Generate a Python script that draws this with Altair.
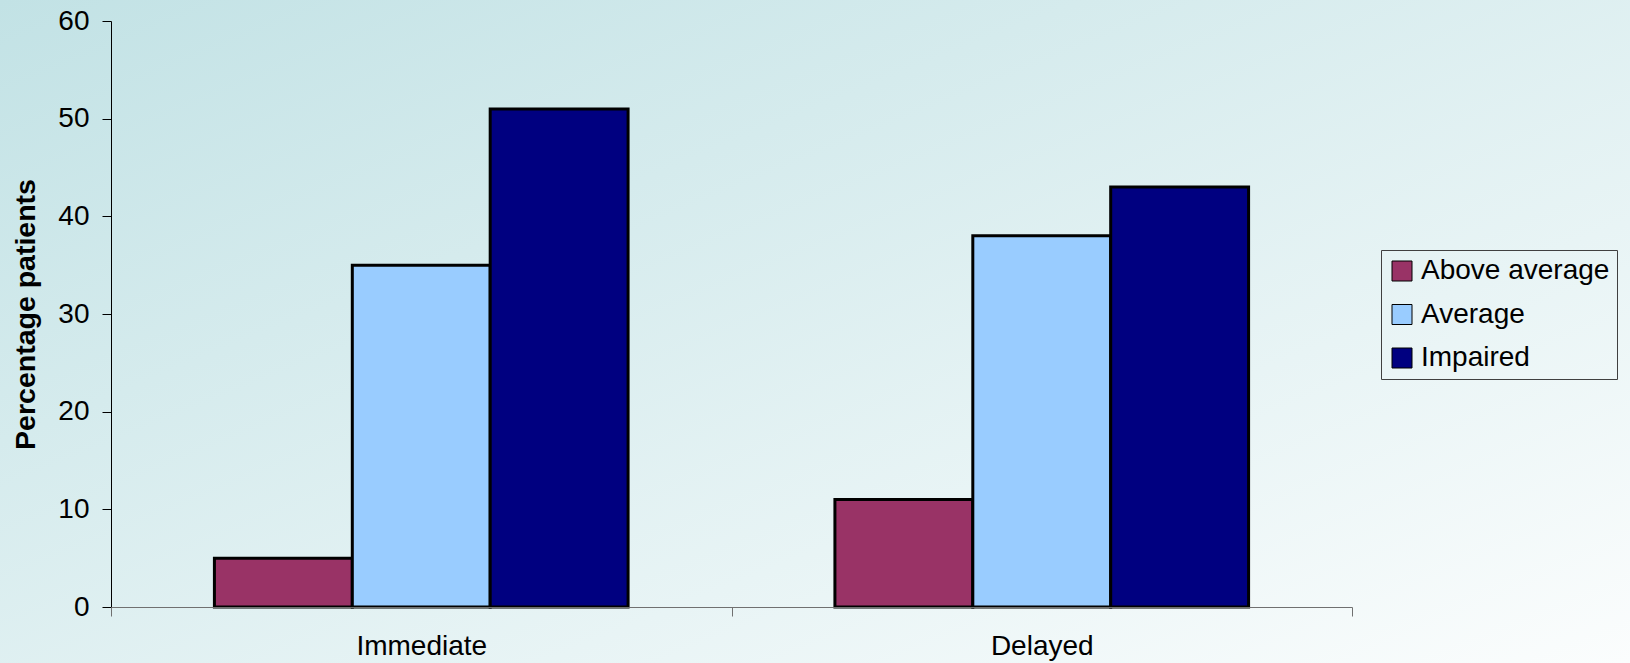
import altair as alt
import pandas as pd

categories = ["Immediate", "Delayed"]
series = ["Above average", "Average", "Impaired"]
above_average = [5, 11]
average = [35, 38]
impaired = [51, 43]
y_ticks = [0, 10, 20, 30, 40, 50, 60]
colors = ["#993366", "#99CCFF", "#000080"]

rows = []
for i, c in enumerate(categories):
    for s, vals in zip(series, [above_average, average, impaired]):
        rows.append({"cat": c, "series": s, "value": vals[i]})
df = pd.DataFrame(rows)

W, H = 1241, 586
PL, PT, PR, PB = 111, 21, 1630 - 111 - 1241, 663 - 21 - 586
FONT = "Liberation Sans"

bg = alt.Chart(pd.DataFrame({"a": [0]})).mark_rect(
    color=alt.LinearGradient(
        gradient="linear",
        x1=0, y1=0, x2=1, y2=1,
        stops=[alt.GradientStop(offset=0, color="#c2e2e5"),
               alt.GradientStop(offset=1, color="#fbfdfd")],
    )
).encode(
    x=alt.value(-PL), x2=alt.value(W + PR),
    y=alt.value(-PT), y2=alt.value(H + PB),
)

bars = alt.Chart(df).mark_bar(stroke="black", strokeWidth=3).encode(
    x=alt.X("cat:N", sort=categories, title=None,
            scale=alt.Scale(paddingInner=0, paddingOuter=0),
            axis=alt.Axis(tickBand="extent", domainColor="#707070", tickColor="#707070",
                          tickSize=9, labelFontSize=28, labelFont=FONT, labelColor="black",
                          labelPadding=16, labelAngle=0, grid=False, zindex=2)),
    xOffset=alt.XOffset("series:N", sort=series,
                        scale=alt.Scale(paddingInner=0, paddingOuter=0.75)),
    y=alt.Y("value:Q", scale=alt.Scale(domain=[0, 60], nice=False),
            axis=alt.Axis(values=y_ticks, title="Percentage patients", grid=False,
                          domainColor="black", tickColor="black", tickSize=9,
                          labelFontSize=28, labelFont=FONT, labelColor="black", labelPadding=13,
                          titleFontSize=28.5, titleFont=FONT, titleFontWeight="bold",
                          titleColor="black", titlePadding=17, zindex=1)),
    color=alt.Color("series:N", sort=series,
                    scale=alt.Scale(domain=series, range=colors),
                    legend=alt.Legend(title=None, orient="none", legendX=1270, legendY=229,
                                      symbolType="square", symbolSize=400,
                                      symbolStrokeColor="black", symbolStrokeWidth=1,
                                      labelFontSize=28, labelFont=FONT, labelColor="black",
                                      labelLimit=400, labelExpr="datum.label + '\u2002'",
                                      labelOffset=5, rowPadding=15.5, padding=7,
                                      strokeColor="#404040", fillColor="transparent")),
)

chart = alt.layer(bg, bars).properties(
    width=W, height=H,
    autosize=alt.AutoSizeParams(type="none"),
    padding={"left": PL, "top": PT, "right": PR, "bottom": PB},
).configure_view(stroke=None)

chart.save("out.html", embed_options={"renderer": "svg", "actions": False})
